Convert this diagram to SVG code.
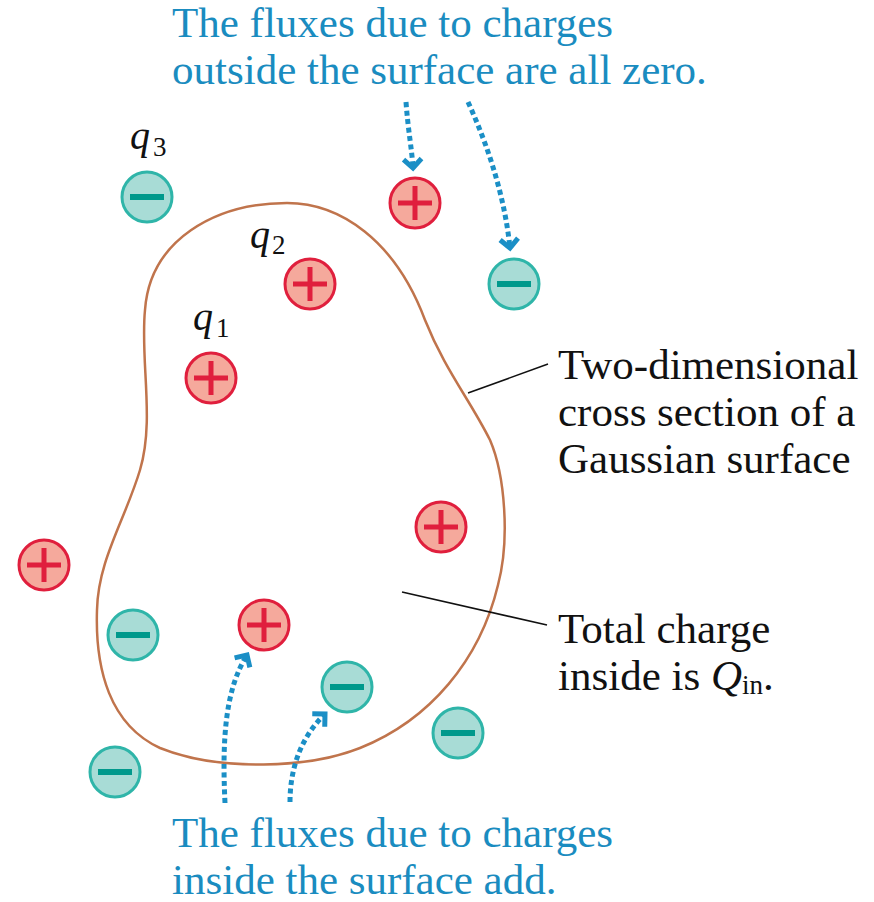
<svg xmlns="http://www.w3.org/2000/svg" width="874" height="902" viewBox="0 0 874 902">
<style>
.pc{fill:#f5a99c;stroke:#e01f3d;stroke-width:3}
.ps{stroke:#e01f3d;stroke-width:5;fill:none}
.nc{fill:#a8dcd6;stroke:#2fb5a9;stroke-width:3}
.ns{stroke:#00998c;stroke-width:6;fill:none}
text{font-family:"Liberation Serif","Times New Roman",serif}
.blue{font-size:43px;fill:#1a8cc0}
.black{font-size:43px;fill:#111}
.q{font-style:italic;font-size:40px;fill:#111}
.sub{font-size:27px;fill:#111}
.arrow{fill:none;stroke:#1b8fc6;stroke-width:5;stroke-dasharray:5 3.5}
.leader{stroke:#111;stroke-width:1.6;fill:none}
</style>
<defs>
<marker id="chev" markerUnits="userSpaceOnUse" markerWidth="30" markerHeight="30" viewBox="-15 -15 30 30" refX="0" refY="0" orient="auto">
<path d="M -9,-9 L 0,0 L -9,9" fill="none" stroke="#1b8fc6" stroke-width="5" stroke-linejoin="miter"/>
</marker>
<g id="plus"><circle class="pc" r="25"/><path class="ps" d="M -17,0 H 17 M 0,-17 V 17"/></g>
<g id="minus"><circle class="nc" r="25"/><path class="ns" d="M -17,0 H 17"/></g>
</defs>

<g id="surface">
<path d="M 287,203 C 340,203 395,240 425,320 C 445,370 470,400 490,440 C 505,475 510,540 498,585 C 480,660 430,720 360,748 C 310,768 220,772 160,748 C 110,725 95,670 97,610 C 98,560 125,520 140,470 C 155,420 140,360 145,310 C 150,240 215,203 287,203 Z" fill="none" stroke="#c0744c" stroke-width="2.5"/>
</g>

<g id="connectors">
<path class="leader" d="M 468,393 L 548,364"/>
<path class="leader" d="M 402,592 L 547,625"/>
<path class="arrow" d="M 406,102 C 408,130 412,150 413,168" marker-end="url(#chev)"/>
<path class="arrow" d="M 468,102 C 490,150 505,200 510,248" marker-end="url(#chev)"/>
<path class="arrow" d="M 225,803 C 222,740 225,690 247,655" marker-end="url(#chev)"/>
<path class="arrow" d="M 290,802 C 290,770 300,738 325,714" marker-end="url(#chev)"/>
</g>

<g id="q3"><use href="#minus" x="147" y="197"/></g>
<g id="top-plus"><use href="#plus" x="415" y="203"/></g>
<g id="top-minus"><use href="#minus" x="514" y="284"/></g>
<g id="q2"><use href="#plus" x="310" y="284"/></g>
<g id="q1"><use href="#plus" x="211" y="378"/></g>
<g id="inner-plus-right"><use href="#plus" x="441" y="527"/></g>
<g id="outer-plus-left"><use href="#plus" x="44" y="565"/></g>
<g id="inner-minus-left"><use href="#minus" x="133" y="635"/></g>
<g id="inner-plus-bottom"><use href="#plus" x="264" y="625"/></g>
<g id="inner-minus-bottom"><use href="#minus" x="347" y="687"/></g>
<g id="outer-minus-right"><use href="#minus" x="458" y="733"/></g>
<g id="outer-minus-left"><use href="#minus" x="115" y="772"/></g>

<g id="labels">
<text class="q" x="130" y="149">q</text><text class="sub" x="153" y="156">3</text>
<text class="q" x="250" y="248">q</text><text class="sub" x="272" y="254">2</text>
<text class="q" x="193" y="330">q</text><text class="sub" x="216" y="337">1</text>
</g>

<g id="top-note">
<text class="blue" x="172" y="37">The fluxes due to charges</text>
<text class="blue" x="172" y="84">outside the surface are all zero.</text>
</g>
<g id="bottom-note">
<text class="blue" x="172" y="847">The fluxes due to charges</text>
<text class="blue" x="172" y="894">inside the surface add.</text>
</g>
<g id="surface-label">
<text class="black" x="558" y="379">Two-dimensional</text>
<text class="black" x="558" y="426">cross section of a</text>
<text class="black" x="558" y="473">Gaussian surface</text>
</g>
<g id="charge-label">
<text class="black" x="558" y="643">Total charge</text>
<text class="black" x="558" y="690">inside is <tspan font-style="italic">Q</tspan><tspan font-size="27" dy="4">in</tspan><tspan dy="-4">.</tspan></text>
</g>
</svg>
